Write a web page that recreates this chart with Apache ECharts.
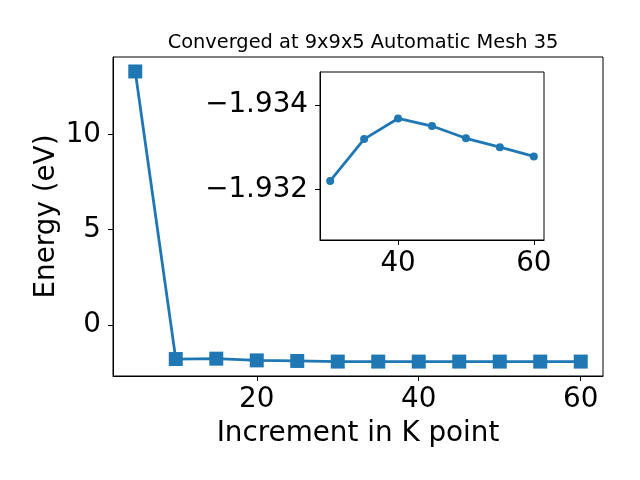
<!DOCTYPE html>
<html>
<head>
<meta charset="utf-8">
<script src="https://cdn.jsdelivr.net/npm/echarts@6/dist/echarts.min.js"></script>
<style>html,body{margin:0;padding:0;background:#fff}#c{width:640px;height:480px}</style>
</head>
<body>
<div id="c"></div>
<script>
const kPoints = [5, 10, 15, 20, 25, 30, 35, 40, 45, 50, 55, 60];
const energies = [13.30, -1.80, -1.78, -1.87, -1.90, -1.9322, -1.93319, -1.93368, -1.93350, -1.93321, -1.93300, -1.93278];
const insetK = [30, 35, 40, 45, 50, 55, 60];
const insetEnergies = [-1.9322, -1.93319, -1.93368, -1.93350, -1.93321, -1.93300, -1.93278];
const mainXTicks = [20, 40, 60];
const mainYTicks = [0, 5, 10];
const insetXTicks = [40, 60];
const insetYTicks = [-1.934, -1.932];
const titleText = 'Converged at 9x9x5 Automatic Mesh 35';
const xName = 'Increment in K point';
const yName = 'Energy (eV)';

const FONT = 'DejaVu Sans';
const BLUE = '#1f77b4';
const fmt = v => String(v).replace('-', '\u2212');

function axisCommon(ticks, fontSize, margin) {
  return {
    axisLine: { show: true, onZero: false, lineStyle: { color: '#000', width: 1 } },
    axisTick: { show: true, customValues: ticks, length: 5, inside: false, lineStyle: { color: '#000', width: 1 } },
    axisLabel: { show: true, customValues: ticks, formatter: fmt, color: '#000', fontFamily: FONT, fontSize: fontSize, margin: margin },
    splitLine: { show: false }
  };
}

const chart = echarts.init(document.getElementById('c'), null, { renderer: 'canvas' });
chart.setOption({
  animation: false,
  backgroundColor: '#fff',
  title: {
    text: titleText,
    left: 358, top: 28, textAlign: 'center',
    textStyle: { fontFamily: FONT, fontSize: 19.4, fontWeight: 'normal', color: '#000' }
  },
  grid: [
    { left: 113, top: 57, right: 37, bottom: 104, show: true, borderColor: '#000', borderWidth: 1, backgroundColor: 'transparent', containLabel: false },
    { left: 320, top: 72, width: 224, height: 168, show: true, borderColor: '#000', borderWidth: 1, backgroundColor: '#fff', containLabel: false, z: 5 }
  ],
  xAxis: [
    Object.assign({ type: 'value', gridIndex: 0, min: 2.25, max: 62.75,
      name: xName, nameLocation: 'middle', nameGap: 44, nameMoveOverlap: false,
      nameTextStyle: { fontFamily: FONT, fontSize: 27.8, color: '#000' } }, axisCommon(mainXTicks, 27.8, 10)),
    Object.assign({ type: 'value', gridIndex: 1, min: 28.5, max: 61.5, z: 5 }, axisCommon(insetXTicks, 27.8, 10))
  ],
  yAxis: [
    Object.assign({ type: 'value', gridIndex: 0, min: -2.69, max: 14.06,
      name: yName, nameLocation: 'middle', nameGap: 52, nameMoveOverlap: false,
      nameTextStyle: { fontFamily: FONT, fontSize: 27.8, color: '#000' } }, axisCommon(mainYTicks, 27.8, 12)),
    Object.assign({ type: 'value', gridIndex: 1, inverse: true, min: -1.93478, max: -1.9308, z: 5 }, axisCommon(insetYTicks, 27.8, 12))
  ],
  series: [
    {
      type: 'line', xAxisIndex: 0, yAxisIndex: 0,
      data: kPoints.map((k, i) => [k, energies[i]]),
      symbol: 'rect', symbolSize: 14, showSymbol: true,
      lineStyle: { color: BLUE, width: 2.8 },
      itemStyle: { color: BLUE, borderWidth: 0 }
    },
    {
      type: 'line', xAxisIndex: 1, yAxisIndex: 1, z: 6,
      data: insetK.map((k, i) => [k, insetEnergies[i]]),
      symbol: 'circle', symbolSize: 8, showSymbol: true,
      lineStyle: { color: BLUE, width: 2.8 },
      itemStyle: { color: BLUE, borderWidth: 0 }
    }
  ]
});
</script>
</body>
</html>
